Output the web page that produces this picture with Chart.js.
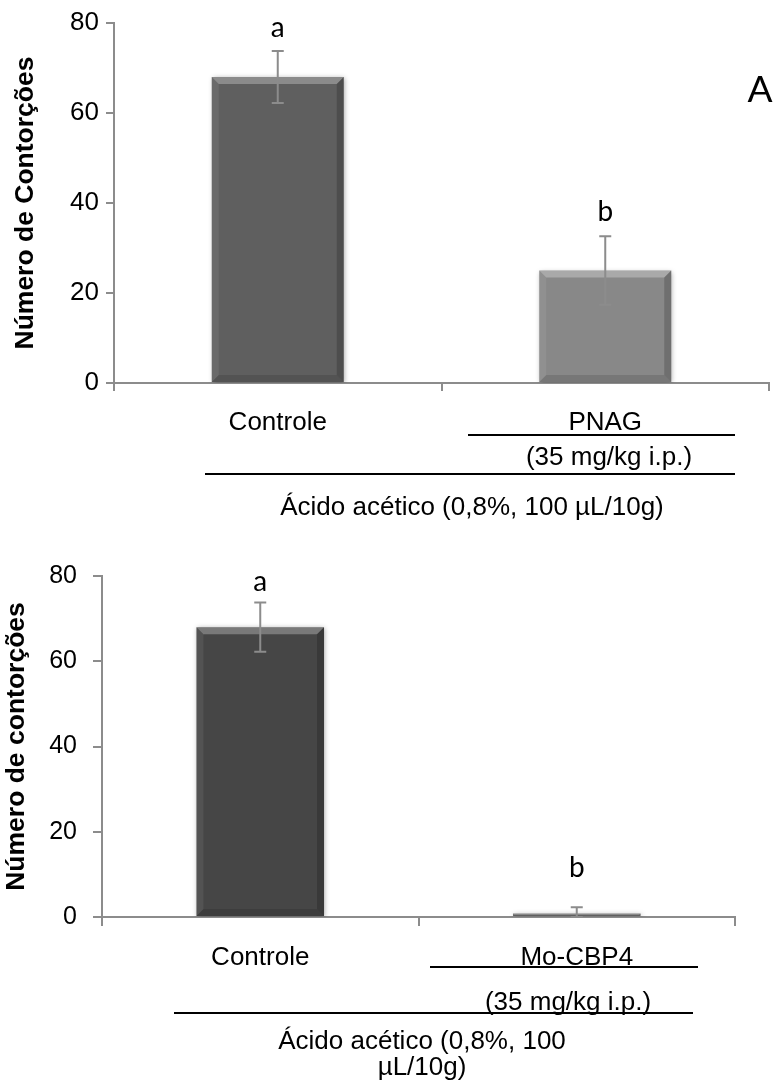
<!DOCTYPE html>
<html>
<head>
<meta charset="utf-8">
<script src="https://cdn.jsdelivr.net/npm/chart.js@4/dist/chart.umd.min.js"></script>
<style>
  html, body { margin: 0; padding: 0; background: #fff; }
  #wrap { position: relative; width: 776px; height: 1084px; }
  .box { position: absolute; left: 0; width: 776px; }
</style>
</head>
<body>
<div id="wrap">
  <div class="box" style="top:0;height:545px"><canvas id="chartTop"></canvas></div>
  <div class="box" style="top:545px;height:539px"><canvas id="chartBottom"></canvas></div>
</div>
<script>
// dados do teste de contorções
const categoriasA = ['Controle', 'PNAG'];
const contorcoesA = [68, 25];
const erroA = [5.8, 7.6];
const letrasA = ['a', 'b'];

const categoriasB = ['Controle', 'Mo-CBP4'];
const contorcoesB = [68, 0.8];
const erroB = [5.8, 1.5];
const letrasB = ['a', 'b'];

const yTicks = [0, 20, 40, 60, 80];

const FONT = '"Liberation Sans", Arial, sans-serif';
const LETRA = 'Lato, "Open Sans", sans-serif';
const AXIS = '#8c8c8c';

// sombra leve nas barras
const sombra = {
  id: 'sombra',
  beforeDatasetsDraw(chart) {
    const ctx = chart.ctx;
    ctx.save();
    ctx.shadowColor = 'rgba(0,0,0,0.35)';
    ctx.shadowBlur = 5;
    ctx.shadowOffsetX = 1;
    ctx.shadowOffsetY = 1;
  },
  afterDatasetsDraw(chart) {
    chart.ctx.restore();
  }
};

// chanfro, barras de erro, letras e textos abaixo do eixo
const extras = {
  id: 'extras',
  afterDatasetsDraw(chart, args, opts) {
    const ctx = chart.ctx;
    const y = chart.scales.y;
    const meta = chart.getDatasetMeta(0);
    const vals = chart.data.datasets[0].data;

    meta.data.forEach((bar, i) => {
      const p = bar.getProps(['x', 'y', 'base', 'width'], true);
      const l = p.x - p.width / 2, r = p.x + p.width / 2;
      const t = p.y, b = p.base;
      const bv = Math.min(7, (b - t) / 2);
      ctx.save();
      ctx.fillStyle = 'rgba(255,255,255,0.28)';
      ctx.beginPath();
      ctx.moveTo(l, t); ctx.lineTo(r, t); ctx.lineTo(r - bv, t + bv); ctx.lineTo(l + bv, t + bv);
      ctx.closePath(); ctx.fill();
      ctx.fillStyle = 'rgba(255,255,255,0.07)';
      ctx.beginPath();
      ctx.moveTo(l, t); ctx.lineTo(l + bv, t + bv); ctx.lineTo(l + bv, b - bv); ctx.lineTo(l, b);
      ctx.closePath(); ctx.fill();
      ctx.fillStyle = 'rgba(0,0,0,0.18)';
      ctx.beginPath();
      ctx.moveTo(r, t); ctx.lineTo(r - bv, t + bv); ctx.lineTo(r - bv, b - bv); ctx.lineTo(r, b);
      ctx.closePath(); ctx.fill();
      ctx.fillStyle = 'rgba(0,0,0,0.12)';
      ctx.beginPath();
      ctx.moveTo(l, b); ctx.lineTo(l + bv, b - bv); ctx.lineTo(r - bv, b - bv); ctx.lineTo(r, b);
      ctx.closePath(); ctx.fill();

      // barra de erro
      const hi = y.getPixelForValue(vals[i] + opts.erro[i]);
      const lo = y.getPixelForValue(Math.max(0, vals[i] - opts.erro[i]));
      ctx.strokeStyle = AXIS;
      ctx.lineWidth = 2;
      ctx.beginPath();
      ctx.moveTo(p.x, hi); ctx.lineTo(p.x, lo);
      ctx.moveTo(p.x - 6, hi); ctx.lineTo(p.x + 6, hi);
      ctx.moveTo(p.x - 6, lo); ctx.lineTo(p.x + 6, lo);
      ctx.stroke();

      // letra de significância
      ctx.fillStyle = '#000';
      ctx.font = '28px ' + LETRA;
      ctx.textAlign = 'center';
      ctx.textBaseline = 'middle';
      ctx.fillText(opts.letras[i], p.x, hi - opts.gap[i]);
      ctx.restore();
    });
  },
  afterDraw(chart, args, opts) {
    const ctx = chart.ctx;
    ctx.save();
    ctx.strokeStyle = '#000';
    ctx.lineWidth = 2;
    opts.linhas.forEach(s => {
      ctx.beginPath();
      ctx.moveTo(s[0], s[1]); ctx.lineTo(s[2], s[3]);
      ctx.stroke();
    });
    ctx.fillStyle = '#000';
    ctx.textAlign = 'center';
    ctx.textBaseline = 'middle';
    opts.textos.forEach(tx => {
      ctx.font = tx.font || ('26px ' + FONT);
      ctx.fillText(tx.text, tx.x, tx.y);
    });
    ctx.restore();
  }
};

function montar(id, cats, vals, cores, cfg) {
  return new Chart(document.getElementById(id), {
    type: 'bar',
    data: {
      labels: cats,
      datasets: [{
        data: vals,
        backgroundColor: cores,
        borderWidth: 0,
        barPercentage: 0.403,
        categoryPercentage: 1
      }]
    },
    options: {
      responsive: true,
      maintainAspectRatio: false,
      animation: false,
      layout: { padding: { left: 0, right: cfg.right, top: cfg.top, bottom: 0 } },
      plugins: {
        legend: { display: false },
        tooltip: { enabled: false },
        extras: cfg.extras
      },
      scales: {
        x: {
          offset: true,
          grid: { offset: true, drawOnChartArea: false, drawTicks: true, tickLength: cfg.tick, color: AXIS, lineWidth: 2 },
          border: { color: AXIS, width: 2 },
          ticks: { color: '#000', font: { family: FONT, size: 26, lineHeight: 1.2 }, padding: 16, maxRotation: 0 },
          afterFit: s => { s.height = cfg.xHeight; }
        },
        y: {
          min: 0,
          max: 80,
          afterBuildTicks: s => { s.ticks = yTicks.map(v => ({ value: v })); },
          grid: { drawOnChartArea: false, drawTicks: true, tickLength: cfg.tick, color: AXIS, lineWidth: 2 },
          border: { color: AXIS, width: 2 },
          ticks: { color: '#000', font: { family: FONT, size: cfg.tickFont }, padding: cfg.yPad },
          title: {
            display: true,
            text: cfg.titulo,
            color: '#000',
            font: { family: FONT, size: 26.5, weight: 'bold', lineHeight: 1.2 },
            padding: { top: cfg.titlePad, bottom: 0 }
          },
          afterFit: s => { s.width = cfg.yWidth; }
        }
      }
    },
    plugins: [sombra, extras]
  });
}

montar('chartTop', categoriasA, contorcoesA, ['#5f5f5f', '#888888'], {
  right: 7, top: 23, tick: 8, xHeight: 162, yWidth: 114, yPad: 7, titlePad: 10, tickFont: 26,
  titulo: 'Número de Contorções',
  extras: {
    erro: erroA,
    letras: letrasA,
    gap: [23, 24],
    linhas: [[468, 435, 735, 435], [205, 474, 735, 474]],
    textos: [
      { text: '(35 mg/kg i.p.)', x: 609, y: 458 },
      { text: 'Ácido acético (0,8%, 100 µL/10g)', x: 472, y: 508 },
      { text: 'A', x: 760, y: 90, font: '37px ' + LETRA }
    ]
  }
});

montar('chartBottom', categoriasB, contorcoesB, ['#464646', '#6e6e6e'], {
  right: 41, top: 25, tick: 9, xHeight: 167, yWidth: 102, yPad: 16, titlePad: 1, tickFont: 25,
  titulo: 'Número de contorções',
  extras: {
    erro: erroB,
    letras: letrasB,
    gap: [20, 39],
    linhas: [[430, 422, 698, 422], [174, 468, 693, 468]],
    textos: [
      { text: '(35 mg/kg i.p.)', x: 568, y: 458 },
      { text: 'Ácido acético (0,8%, 100', x: 422, y: 497 },
      { text: 'µL/10g)', x: 422, y: 523 }
    ]
  }
});
</script>
</body>
</html>
